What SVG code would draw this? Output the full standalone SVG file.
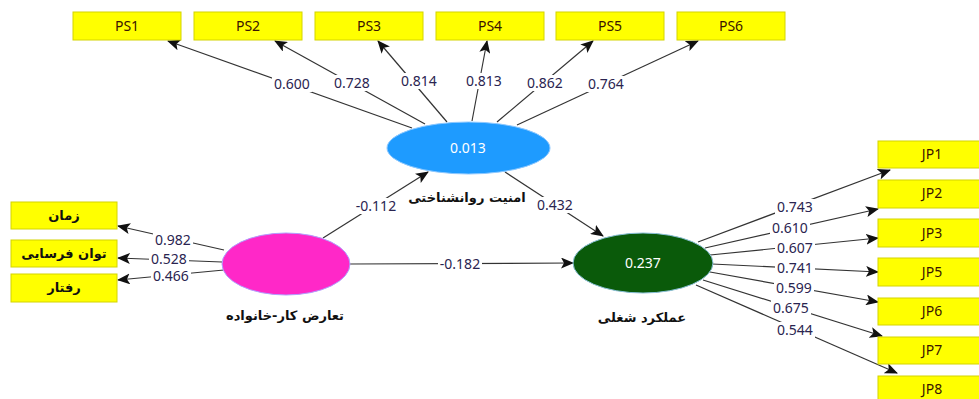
<svg xmlns="http://www.w3.org/2000/svg" width="979" height="399" viewBox="0 0 979 399">
<style>
.box{fill:#ffff00;stroke:#d4d400;stroke-width:1}
.bt{font-family:"Noto Sans","DejaVu Sans",sans-serif;font-size:14px;fill:#3a1500;text-anchor:middle}
.fa{font-family:"DejaVu Sans",sans-serif;font-size:13px;font-weight:bold;fill:#111;text-anchor:middle}
.ln{stroke:#333;stroke-width:1.2;fill:none;marker-end:url(#ah)}
.lb{font-family:"Noto Sans","DejaVu Sans",sans-serif;font-size:14px;fill:#2a2450;text-anchor:middle}
.bg{fill:#fff}
.et{font-family:"Noto Sans","DejaVu Sans",sans-serif;font-size:14px;fill:#fff;text-anchor:middle}
</style>
<defs>
<marker id="ah" markerUnits="userSpaceOnUse" markerWidth="13" markerHeight="11" refX="12" refY="5.5" orient="auto">
<path d="M0,0 L13,5.5 L0,11 L3,5.5 Z" fill="#111"/>
</marker>
</defs>
<rect width="979" height="399" fill="#fff"/>
<g id="connectors">
<line class="ln" x1="412" y1="128" x2="168" y2="41"/>
<line class="ln" x1="425" y1="124" x2="275" y2="41"/>
<line class="ln" x1="447" y1="122" x2="378" y2="41"/>
<line class="ln" x1="472" y1="121" x2="487" y2="41"/>
<line class="ln" x1="497" y1="122" x2="593" y2="41"/>
<line class="ln" x1="517" y1="125" x2="698" y2="41"/>
<line class="ln" x1="224" y1="250" x2="118" y2="226"/>
<line class="ln" x1="222" y1="262" x2="118" y2="258"/>
<line class="ln" x1="224" y1="270" x2="118" y2="280"/>
<line class="ln" x1="323" y1="238" x2="428" y2="172"/>
<line class="ln" x1="505" y1="172" x2="603" y2="236"/>
<line class="ln" x1="350" y1="264" x2="573" y2="263"/>
<line class="ln" x1="698" y1="242" x2="890" y2="170"/>
<line class="ln" x1="705" y1="248" x2="878" y2="209"/>
<line class="ln" x1="710" y1="255" x2="878" y2="238"/>
<line class="ln" x1="712" y1="264" x2="878" y2="272"/>
<line class="ln" x1="710" y1="272" x2="878" y2="302"/>
<line class="ln" x1="703" y1="280" x2="882" y2="336"/>
<line class="ln" x1="696" y1="285" x2="897" y2="373"/>
<g id="labels">
<rect class="bg" x="272" y="76" width="40" height="16"/><text class="lb" x="292" y="89">0.600</text>
<rect class="bg" x="332" y="75" width="40" height="16"/><text class="lb" x="352" y="88">0.728</text>
<rect class="bg" x="399" y="73" width="40" height="16"/><text class="lb" x="419" y="86">0.814</text>
<rect class="bg" x="464" y="73" width="40" height="16"/><text class="lb" x="484" y="86">0.813</text>
<rect class="bg" x="525" y="75" width="40" height="16"/><text class="lb" x="545" y="88">0.862</text>
<rect class="bg" x="586" y="76" width="40" height="16"/><text class="lb" x="606" y="89">0.764</text>
<rect class="bg" x="153" y="232" width="40" height="15"/><text class="lb" x="173" y="245">0.982</text>
<rect class="bg" x="149" y="251" width="40" height="15"/><text class="lb" x="169" y="264">0.528</text>
<rect class="bg" x="151" y="268" width="40" height="15"/><text class="lb" x="171" y="281">0.466</text>
<rect class="bg" x="354" y="198" width="44" height="16"/><text class="lb" x="376" y="211">-0.112</text>
<rect class="bg" x="535" y="197" width="40" height="16"/><text class="lb" x="555" y="210">0.432</text>
<rect class="bg" x="438" y="256" width="44" height="16"/><text class="lb" x="460" y="269">-0.182</text>
<rect class="bg" x="775" y="199" width="40" height="16"/><text class="lb" x="795" y="212">0.743</text>
<rect class="bg" x="770" y="220" width="40" height="16"/><text class="lb" x="790" y="233">0.610</text>
<rect class="bg" x="775" y="240" width="40" height="16"/><text class="lb" x="795" y="253">0.607</text>
<rect class="bg" x="775" y="260" width="40" height="16"/><text class="lb" x="795" y="273">0.741</text>
<rect class="bg" x="774" y="280" width="40" height="16"/><text class="lb" x="794" y="293">0.599</text>
<rect class="bg" x="771" y="300" width="40" height="16"/><text class="lb" x="791" y="313">0.675</text>
<rect class="bg" x="775" y="322" width="40" height="16"/><text class="lb" x="795" y="335">0.544</text>
</g>
</g>
<g id="PS1"><rect class="box" x="73" y="12" width="108" height="28"/><text class="bt" x="127" y="31">PS1</text></g>
<g id="PS2"><rect class="box" x="194" y="12" width="108" height="28"/><text class="bt" x="248" y="31">PS2</text></g>
<g id="PS3"><rect class="box" x="315" y="12" width="108" height="28"/><text class="bt" x="369" y="31">PS3</text></g>
<g id="PS4"><rect class="box" x="436" y="12" width="108" height="28"/><text class="bt" x="490" y="31">PS4</text></g>
<g id="PS5"><rect class="box" x="556" y="12" width="108" height="28"/><text class="bt" x="610" y="31">PS5</text></g>
<g id="PS6"><rect class="box" x="677" y="12" width="108" height="28"/><text class="bt" x="731" y="31">PS6</text></g>
<g id="zaman"><rect class="box" x="11" y="202" width="106" height="27"/><text class="fa" x="64" y="220">زمان</text></g>
<g id="tavan"><rect class="box" x="11" y="240" width="106" height="27"/><text class="fa" x="64" y="258">توان فرسایی</text></g>
<g id="raftar"><rect class="box" x="11" y="274" width="106" height="28"/><text class="fa" x="64" y="292">رفتار</text></g>
<g id="JP1"><rect class="box" x="878" y="141" width="108" height="27"/><text class="bt" x="932" y="159">JP1</text></g>
<g id="JP2"><rect class="box" x="878" y="180" width="108" height="28"/><text class="bt" x="932" y="198">JP2</text></g>
<g id="JP3"><rect class="box" x="878" y="219" width="108" height="28"/><text class="bt" x="932" y="238">JP3</text></g>
<g id="JP5"><rect class="box" x="878" y="258" width="108" height="28"/><text class="bt" x="932" y="277">JP5</text></g>
<g id="JP6"><rect class="box" x="878" y="298" width="108" height="27"/><text class="bt" x="932" y="316">JP6</text></g>
<g id="JP7"><rect class="box" x="878" y="337" width="108" height="27"/><text class="bt" x="932" y="355">JP7</text></g>
<g id="JP8"><rect class="box" x="878" y="376" width="108" height="28"/><text class="bt" x="932" y="394">JP8</text></g>
<g id="security">
<ellipse cx="468.5" cy="148" rx="81.5" ry="26" fill="#1e9bff" stroke="#8cc8ff" stroke-width="1"/>
<text class="et" x="468" y="153">0.013</text>
<text class="fa" x="467" y="202">امنیت روانشناختی</text>
</g>
<g id="conflict">
<ellipse cx="286" cy="264" rx="64" ry="31" fill="#ff28c8" stroke="#b0a0ff" stroke-width="1"/>
<text class="fa" x="285" y="320">تعارض کار-خانواده</text>
</g>
<g id="performance">
<ellipse cx="643" cy="263" rx="70" ry="30" fill="#0a5a0a" stroke="#8ac0d8" stroke-width="1"/>
<text class="et" x="643" y="268">0.237</text>
<text class="fa" x="642" y="322">عملکرد شغلی</text>
</g>
</svg>
